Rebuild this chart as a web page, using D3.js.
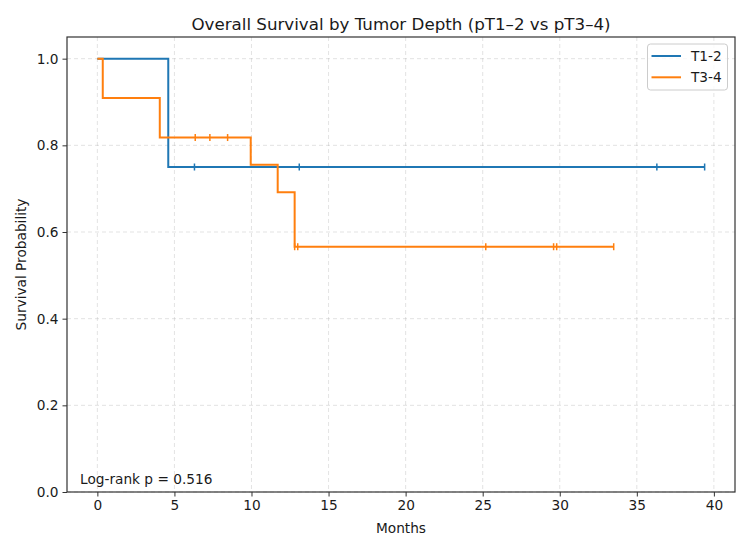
<!DOCTYPE html>
<html>

<head>
    <meta charset="utf-8">
    <script src="https://cdn.jsdelivr.net/npm/d3@7/dist/d3.min.js"></script>
    <style>
        body { margin: 0; background: #fff; }
        text { font-family: "DejaVu Sans", sans-serif; fill: #1a1a1a; }
    </style>
</head>

<body>
    <div id="my_dataviz"></div>
    <script>

        // ---- data ----
        // T1-2 group: step times and survival after each step
        var t12Times = [0, 4.6];
        var t12Surv = [1.0, 0.75];
        var t12End = 39.4;
        var t12Censor = [6.3, 13.1, 36.3, 39.4];

        // T3-4 group
        var t34Times = [0, 0.35, 4.05, 9.95, 11.7, 12.8];
        var t34Surv = [1.0, 0.909, 0.818, 0.755, 0.692, 0.566];
        var t34End = 33.5;
        var t34Censor = [6.35, 7.3, 8.45, 12.8, 13.0, 25.2, 29.6, 29.8, 33.5];

        var xTicks = [0, 5, 10, 15, 20, 25, 30, 35, 40];
        var yTicks = [0, 0.2, 0.4, 0.6, 0.8, 1.0];
        var pValue = 0.516;

        // set the dimensions and margins of the graph
        var margin = { top: 37, right: 15, bottom: 58, left: 67 },
            width = 750 - margin.left - margin.right,
            height = 550 - margin.top - margin.bottom;

        var svg = d3.select("#my_dataviz")
            .append("svg")
            .attr("width", width + margin.left + margin.right)
            .attr("height", height + margin.top + margin.bottom)
            .append("g")
            .attr("transform", "translate(" + margin.left + "," + margin.top + ")");

        var x = d3.scaleLinear().domain([-1.97, 41.37]).range([0, width]);
        var y = d3.scaleLinear().domain([0, 1.05]).range([height, 0]);

        // grid
        var grid = svg.append("g");
        grid.selectAll(".vg").data(xTicks).enter().append("line")
            .attr("x1", function (d) { return x(d); }).attr("x2", function (d) { return x(d); })
            .attr("y1", 0).attr("y2", height)
            .attr("stroke", "#b0b0b0").attr("stroke-opacity", 0.35)
            .attr("stroke-dasharray", "4,3");
        grid.selectAll(".hg").data(yTicks).enter().append("line")
            .attr("y1", function (d) { return y(d); }).attr("y2", function (d) { return y(d); })
            .attr("x1", 0).attr("x2", width)
            .attr("stroke", "#b0b0b0").attr("stroke-opacity", 0.35)
            .attr("stroke-dasharray", "4,3");

        // axes
        var xAxis = svg.append("g")
            .attr("transform", "translate(0," + height + ")")
            .call(d3.axisBottom(x).tickValues(xTicks).tickSize(4.5).tickPadding(4).tickFormat(d3.format("d")));
        var yAxis = svg.append("g")
            .call(d3.axisLeft(y).tickValues(yTicks).tickSize(4.5).tickPadding(4).tickFormat(d3.format(".1f")));
        [xAxis, yAxis].forEach(function (a) {
            a.select(".domain").remove();
            a.selectAll("line").attr("stroke", "#333");
            a.selectAll("text").style("font-size", "13.7px").style("font-family", "DejaVu Sans, sans-serif").attr("fill", "#1a1a1a");
        });

        // frame
        svg.append("rect")
            .attr("width", width).attr("height", height)
            .attr("fill", "none").attr("stroke", "#333").attr("stroke-width", 1.2);

        // survival curves
        function survAt(times, surv, t) {
            var s = surv[0];
            for (var i = 0; i < times.length; i++) { if (t >= times[i]) s = surv[i]; }
            return s;
        }
        var groups = [
            { name: "T1-2", color: "#1f77b4", times: t12Times, surv: t12Surv, end: t12End, censor: t12Censor },
            { name: "T3-4", color: "#ff7f0e", times: t34Times, surv: t34Surv, end: t34End, censor: t34Censor }
        ];
        var line = d3.line()
            .x(function (d) { return x(d[0]); })
            .y(function (d) { return y(d[1]); })
            .curve(d3.curveStepAfter);

        groups.forEach(function (g) {
            var pts = g.times.map(function (t, i) { return [t, g.surv[i]]; });
            pts.push([g.end, g.surv[g.surv.length - 1]]);
            svg.append("path")
                .datum(pts)
                .attr("d", line)
                .attr("fill", "none")
                .attr("stroke", g.color)
                .attr("stroke-width", 2);
            svg.append("g").selectAll("line")
                .data(g.censor)
                .enter().append("line")
                .attr("x1", function (d) { return x(d); })
                .attr("x2", function (d) { return x(d); })
                .attr("y1", function (d) { return y(survAt(g.times, g.surv, d)) - 3.5; })
                .attr("y2", function (d) { return y(survAt(g.times, g.surv, d)) + 3.5; })
                .attr("stroke", g.color)
                .attr("stroke-width", 1.5);
        });

        // title and labels
        svg.append("text")
            .attr("x", width / 2).attr("y", -7)
            .attr("text-anchor", "middle")
            .style("font-size", "16.7px")
            .text("Overall Survival by Tumor Depth (pT1\u20132 vs pT3\u20134)");
        svg.append("text")
            .attr("x", width / 2).attr("y", height + 41)
            .attr("text-anchor", "middle")
            .style("font-size", "13.7px")
            .text("Months");
        svg.append("text")
            .attr("transform", "rotate(-90)")
            .attr("x", -height / 2).attr("y", -41.5)
            .attr("text-anchor", "middle")
            .style("font-size", "13.7px")
            .text("Survival Probability");
        svg.append("text")
            .attr("x", 13).attr("y", height - 8.5)
            .style("font-size", "13.7px")
            .text("Log-rank p = " + pValue.toFixed(3));

        // legend
        var lg = svg.append("g").attr("transform", "translate(" + (width - 87.5) + ",7)");
        lg.append("rect")
            .attr("width", 80).attr("height", 46).attr("rx", 3)
            .attr("fill", "#fff").attr("fill-opacity", 0.8)
            .attr("stroke", "#ccc");
        groups.forEach(function (g, i) {
            var yy = 12 + i * 21.3;
            lg.append("line")
                .attr("x1", 4).attr("x2", 33.5).attr("y1", yy).attr("y2", yy)
                .attr("stroke", g.color).attr("stroke-width", 2);
            lg.append("text")
                .attr("x", 43.5).attr("y", yy + 4.9)
                .style("font-size", "13.7px")
                .text(g.name);
        });

    </script>
</body>

</html>
